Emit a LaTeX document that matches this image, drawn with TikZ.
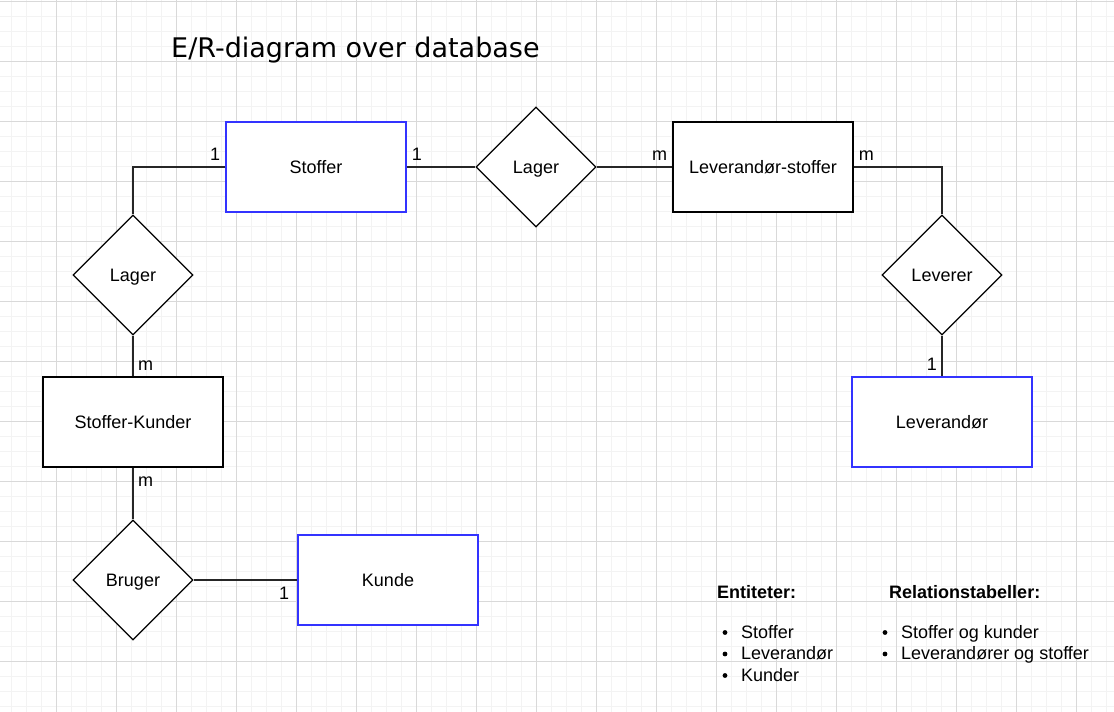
\documentclass[tikz,border=0pt]{standalone}
\usepackage{fontspec}
\setmainfont{Liberation Sans}
\newfontfamily\titlefont{DejaVu Sans}
\usetikzlibrary{shapes.geometric,positioning}

\definecolor{entblue}{HTML}{3333FF}
\definecolor{gridmajor}{HTML}{D9D9D9}
\definecolor{gridminor}{HTML}{F3F3F3}

\begin{document}
\begin{tikzpicture}[x=1pt,y=-1pt,
    entity/.style={draw, rectangle, line width=1.5pt, fill=white,
      minimum width=180pt, minimum height=90pt,
      text height=12.9pt, text depth=0pt,
      font=\fontsize{18}{21}\selectfont},
    strong/.style={entity, draw=entblue},
    relation/.style={draw, diamond, line width=1.3pt, fill=white,
      minimum width=120pt, minimum height=120pt, inner sep=0pt,
      text height=12.9pt, text depth=0pt,
      font=\fontsize{18}{21}\selectfont},
    card/.style={inner xsep=5pt, inner ysep=6pt, text height=13pt, text depth=0pt,
      font=\fontsize{18}{21}\selectfont},
    link/.style={line width=1.5pt, draw=black!85},
    legend/.style={inner sep=0pt, anchor=base west, font=\fontsize{18}{21}\selectfont}]

  \useasboundingbox[fill=white] (0,0) rectangle (1114,712);

  % grid
  \begin{scope}[line width=0.8pt]
    \foreach \k in {0,...,73}
      \draw[gridminor] (11.7+15*\k,0) -- ++(0,712);
    \foreach \k in {0,...,47}
      \draw[gridminor] (0,1.7+15*\k) -- ++(1114,0);
    \foreach \k in {0,...,17}
      \draw[gridmajor] (56.7+60*\k,0) -- ++(0,712);
    \foreach \k in {0,...,11}
      \draw[gridmajor] (0,1.7+60*\k) -- ++(1114,0);
  \end{scope}

  \node[anchor=base west, inner sep=0pt, font=\titlefont\fontsize{27}{31}\selectfont]
    (title) at (171,57) {E/R-diagram over database};

  \node[strong]   (stoffer)    at (316,167) {Stoffer};
  \node[relation] (lagerTop)   at (536,167) {Lager};
  \node[entity]   (levStoffer) at (763,167) {Leverandør-stoffer};
  \node[relation] (leverer)    at (942,275) {Leverer};
  \node[strong]   (leverandor) at (942,422) {Leverandør};
  \node[relation] (lagerLeft)  at (133,275) {Lager};
  \node[entity]   (stofKunder) at (133,422) {Stoffer-Kunder};
  \node[relation] (bruger)     at (133,580) {Bruger};
  \node[strong]   (kunde)      at (388,580) {Kunde};

  \draw[link] (stoffer.west) -| (lagerLeft.north);
  \draw[link] (stoffer.east) -- (lagerTop.west);
  \draw[link] (lagerTop.east) -- (levStoffer.west);
  \draw[link] (levStoffer.east) -| (leverer.north);
  \draw[link] (leverer.south) -- (leverandor.north);
  \draw[link] (lagerLeft.south) -- (stofKunder.north);
  \draw[link] (stofKunder.south) -- (bruger.north);
  \draw[link] (bruger.east) -- (kunde.west);

  \node[card, above left]  at (stoffer.west) {1};
  \node[card, above right] at (stoffer.east) {1};
  \node[card, above left]  at (levStoffer.west) {m};
  \node[card, above right] at (levStoffer.east) {m};
  \node[card, above left]  at (leverandor.north) {1};
  \node[card, above right] at (stofKunder.north) {m};
  \node[card, below right] at (stofKunder.south) {m};
  \node[card, below left, xshift=-3pt] at (kunde.west) {1};

  % legend
  \node[legend, font=\fontsize{18}{21}\selectfont\bfseries] (entHead) at (717,598) {Entiteter:};
  \node[legend, font=\fontsize{18}{21}\selectfont\bfseries] (relHead) at (889,598) {Relationstabeller:};
  \foreach \txt [count=\i] in {Stoffer, Leverandør, Kunder} {
    \node[legend] (ent\i) at (741,616.5+21.5*\i) {\txt};
    \fill (725,611+21.5*\i) circle (2.4pt);
  }
  \foreach \txt [count=\i] in {Stoffer og kunder, Leverandører og stoffer} {
    \node[legend] (rel\i) at (901,616.5+21.5*\i) {\txt};
    \fill (885,611+21.5*\i) circle (2.4pt);
  }
\end{tikzpicture}
\end{document}
